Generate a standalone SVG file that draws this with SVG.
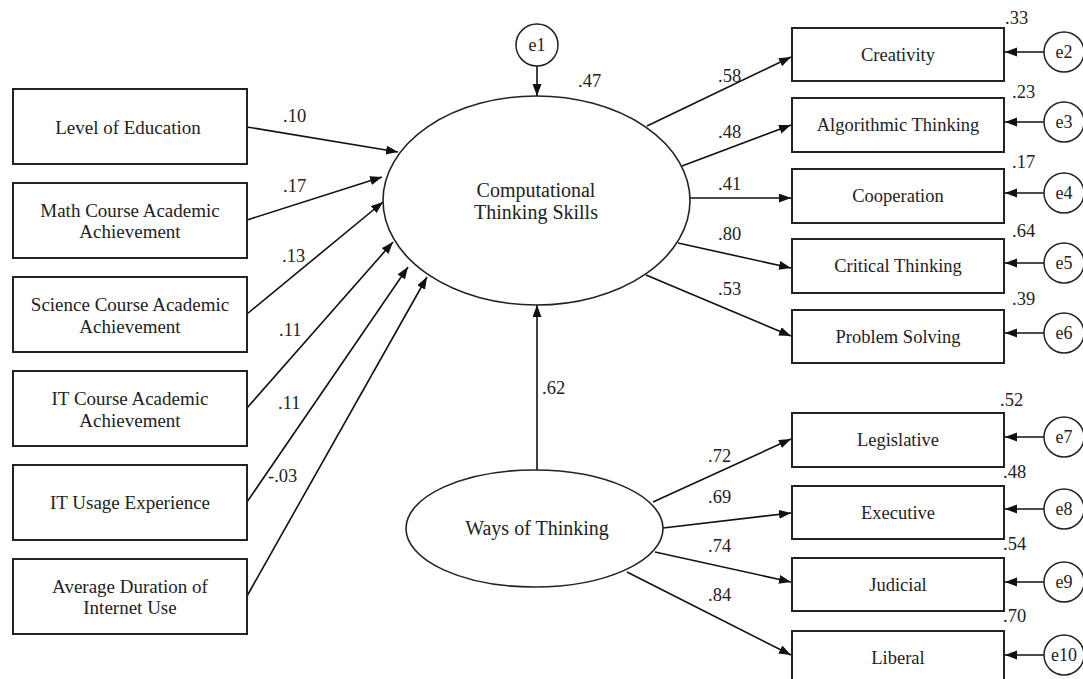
<svg xmlns="http://www.w3.org/2000/svg" width="1083" height="679" viewBox="0 0 1083 679">
<defs>
<marker id="ah" markerUnits="userSpaceOnUse" markerWidth="13" markerHeight="10" refX="12" refY="4.5" orient="auto">
<path d="M0,0 L12,4.5 L0,9 z" fill="#111"/>
</marker>
<style>
.box{fill:#fff;stroke:#222;stroke-width:2}
.ell{fill:#fff;stroke:#222;stroke-width:1.6}
.err{fill:#fff;stroke:#222;stroke-width:1.5}
.t{font-family:"Liberation Serif","Times New Roman",serif;font-size:18.5px;fill:#222;text-anchor:middle}
.lt{font-size:19px}
.big{font-size:20px}
.et{font-family:"Liberation Serif","Times New Roman",serif;font-size:18px;fill:#222;text-anchor:middle}
.lab{font-family:"Liberation Serif","Times New Roman",serif;font-size:18.5px;fill:#222}
.c{fill:none;stroke:#111;stroke-width:1.6;marker-end:url(#ah)}
</style>
</defs>
<rect width="1083" height="679" fill="#fff"/>

<g id="connectors">
<line class="c" x1="247" y1="127" x2="398" y2="152"/>
<line class="c" x1="247" y1="220" x2="382" y2="177"/>
<line class="c" x1="247" y1="314" x2="383" y2="202"/>
<line class="c" x1="247" y1="408" x2="393" y2="242"/>
<line class="c" x1="247" y1="502" x2="408" y2="267"/>
<line class="c" x1="247" y1="596" x2="427" y2="277"/>
<line class="c" x1="537" y1="66" x2="537" y2="96"/>
<line class="c" x1="537" y1="470" x2="537" y2="305"/>
<line class="c" x1="647" y1="126" x2="791" y2="57"/>
<line class="c" x1="682" y1="166" x2="791" y2="125"/>
<line class="c" x1="690" y1="198" x2="791" y2="198"/>
<line class="c" x1="678" y1="243" x2="791" y2="268"/>
<line class="c" x1="646" y1="275" x2="791" y2="336"/>
<line class="c" x1="653" y1="502" x2="791" y2="439"/>
<line class="c" x1="663" y1="528" x2="791" y2="513"/>
<line class="c" x1="655" y1="552" x2="791" y2="582"/>
<line class="c" x1="627" y1="572" x2="791" y2="655"/>
<line class="c" x1="1044" y1="52" x2="1005" y2="52"/>
<line class="c" x1="1044" y1="122" x2="1005" y2="122"/>
<line class="c" x1="1044" y1="193" x2="1005" y2="193"/>
<line class="c" x1="1044" y1="263" x2="1005" y2="263"/>
<line class="c" x1="1044" y1="333" x2="1005" y2="333"/>
<line class="c" x1="1044" y1="437" x2="1005" y2="437"/>
<line class="c" x1="1044" y1="509" x2="1005" y2="509"/>
<line class="c" x1="1044" y1="582" x2="1005" y2="582"/>
<line class="c" x1="1044" y1="655" x2="1005" y2="655"/>
<text class="lab" x="283" y="122">.10</text>
<text class="lab" x="283" y="192">.17</text>
<text class="lab" x="282" y="262">.13</text>
<text class="lab" x="279" y="336">.11</text>
<text class="lab" x="278" y="409">.11</text>
<text class="lab" x="268" y="482">-.03</text>
<text class="lab" x="578" y="87">.47</text>
<text class="lab" x="542" y="394">.62</text>
<text class="lab" x="718" y="82">.58</text>
<text class="lab" x="718" y="138">.48</text>
<text class="lab" x="718" y="190">.41</text>
<text class="lab" x="718" y="240">.80</text>
<text class="lab" x="718" y="295">.53</text>
<text class="lab" x="708" y="462">.72</text>
<text class="lab" x="708" y="503">.69</text>
<text class="lab" x="708" y="552">.74</text>
<text class="lab" x="708" y="601">.84</text>
<text class="lab" x="1005" y="24">.33</text>
<text class="lab" x="1012" y="98">.23</text>
<text class="lab" x="1012" y="168">.17</text>
<text class="lab" x="1012" y="237">.64</text>
<text class="lab" x="1012" y="305">.39</text>
<text class="lab" x="1000" y="406">.52</text>
<text class="lab" x="1003" y="478">.48</text>
<text class="lab" x="1003" y="550">.54</text>
<text class="lab" x="1003" y="622">.70</text>
</g>

<g id="n-level"><rect class="box" x="13" y="89" width="234" height="75"/><text class="t lt" x="128" y="134">Level of Education</text></g>
<g id="n-math"><rect class="box" x="13" y="183" width="234" height="75"/><text class="t lt" x="130" y="217">Math Course Academic</text><text class="t lt" x="130" y="238">Achievement</text></g>
<g id="n-science"><rect class="box" x="13" y="277" width="234" height="75"/><text class="t lt" x="130" y="311">Science Course Academic</text><text class="t lt" x="130" y="333">Achievement</text></g>
<g id="n-itcourse"><rect class="box" x="13" y="371" width="234" height="75"/><text class="t lt" x="130" y="405">IT Course Academic</text><text class="t lt" x="130" y="427">Achievement</text></g>
<g id="n-itusage"><rect class="box" x="13" y="465" width="234" height="75"/><text class="t lt" x="130" y="509">IT Usage Experience</text></g>
<g id="n-internet"><rect class="box" x="13" y="559" width="234" height="75"/><text class="t lt" x="130" y="593">Average Duration of</text><text class="t lt" x="130" y="614">Internet Use</text></g>

<g id="n-e1"><circle class="err" cx="537" cy="45" r="21"/><text class="et" x="537" y="51">e1</text></g>
<g id="n-cts"><ellipse class="ell" cx="536.5" cy="200.5" rx="153.5" ry="104.5"/><text class="t big" x="536" y="197">Computational</text><text class="t big" x="536" y="219">Thinking Skills</text></g>
<g id="n-wot"><ellipse class="ell" cx="534.5" cy="528.5" rx="128.5" ry="58.5"/><text class="t big" x="537" y="535">Ways of Thinking</text></g>

<g id="n-creativity"><rect class="box" x="792" y="28" width="212" height="53"/><text class="t" x="898" y="61">Creativity</text></g>
<g id="n-algorithmic"><rect class="box" x="792" y="98" width="212" height="54"/><text class="t" x="898" y="131">Algorithmic Thinking</text></g>
<g id="n-cooperation"><rect class="box" x="792" y="169" width="212" height="54"/><text class="t" x="898" y="202">Cooperation</text></g>
<g id="n-critical"><rect class="box" x="792" y="239" width="212" height="54"/><text class="t" x="898" y="272">Critical Thinking</text></g>
<g id="n-problem"><rect class="box" x="792" y="310" width="212" height="53"/><text class="t" x="898" y="343">Problem Solving</text></g>
<g id="n-legislative"><rect class="box" x="792" y="413" width="212" height="54"/><text class="t" x="898" y="446">Legislative</text></g>
<g id="n-executive"><rect class="box" x="792" y="486" width="212" height="53"/><text class="t" x="898" y="519">Executive</text></g>
<g id="n-judicial"><rect class="box" x="792" y="558" width="212" height="53"/><text class="t" x="898" y="591">Judicial</text></g>
<g id="n-liberal"><rect class="box" x="792" y="631" width="212" height="54"/><text class="t" x="898" y="664">Liberal</text></g>

<g id="n-e2"><circle class="err" cx="1064" cy="52" r="20"/><text class="et" x="1064" y="58">e2</text></g>
<g id="n-e3"><circle class="err" cx="1064" cy="122" r="20"/><text class="et" x="1064" y="128">e3</text></g>
<g id="n-e4"><circle class="err" cx="1064" cy="193" r="20"/><text class="et" x="1064" y="199">e4</text></g>
<g id="n-e5"><circle class="err" cx="1064" cy="263" r="20"/><text class="et" x="1064" y="269">e5</text></g>
<g id="n-e6"><circle class="err" cx="1064" cy="333" r="20"/><text class="et" x="1064" y="339">e6</text></g>
<g id="n-e7"><circle class="err" cx="1064" cy="437" r="20"/><text class="et" x="1064" y="443">e7</text></g>
<g id="n-e8"><circle class="err" cx="1064" cy="509" r="20"/><text class="et" x="1064" y="515">e8</text></g>
<g id="n-e9"><circle class="err" cx="1064" cy="582" r="20"/><text class="et" x="1064" y="588">e9</text></g>
<g id="n-e10"><circle class="err" cx="1064" cy="655" r="20"/><text class="et" x="1064" y="661">e10</text></g>
</svg>
